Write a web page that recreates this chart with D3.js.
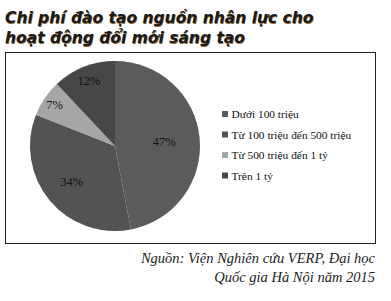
<!DOCTYPE html>
<html>
<head>
<meta charset="utf-8">
<script src="https://cdnjs.cloudflare.com/ajax/libs/d3/7.8.5/d3.min.js"></script>
<style>
  body { margin: 0; background: #fff; }
</style>
</head>
<body>
<div id="chart"></div>
<script>
var svgWidth = 391;
var svgHeight = 301;

var categories = ["Dưới 100 triệu", "Từ 100 triệu đến 500 triệu", "Từ 500 triệu đến 1 tỷ", "Trên 1 tỷ"];
var shares = [47, 34, 7, 12];
var colors = ["#5b5b5b", "#535353", "#a6a6a6", "#474747"];
var titleLines = ["Chi phí đào tạo nguồn nhân lực cho", "hoạt động đổi mới sáng tạo"];
var sourceLines = ["Nguồn: Viện Nghiên cứu VERP, Đại học", "Quốc gia Hà Nội năm 2015"];

// label distance from centre, as a share of the radius (Excel-ish placement)
var labelRadius = [0.58, 0.66, 0.86, 0.83];

var svg = d3.select("#chart")
  .append("svg")
  .attr("width", svgWidth)
  .attr("height", svgHeight);

// title
svg.selectAll(".title")
  .data(titleLines)
  .enter()
  .append("text")
  .attr("class", "title")
  .attr("x", 5)
  .attr("y", (d, i) => 23 + i * 20)
  .attr("font-family", "DejaVu Sans")
  .attr("font-weight", "bold")
  .attr("font-style", "italic")
  .attr("font-size", "15.5px")
  .attr("fill", "#1a1a1a")
  .style("text-shadow", "0.6px 0.6px 0 #8a6a3a")
  .text(d => d);

// frame
svg.append("rect")
  .attr("x", 5.5)
  .attr("y", 52.5)
  .attr("width", 370)
  .attr("height", 191)
  .attr("fill", "none")
  .attr("stroke", "#222")
  .attr("stroke-width", 1);

var radius = 85;
var pieGroup = svg.append("g")
  .attr("transform", "translate(115, 146)");

var pie = d3.pie().sort(null).value(d => d);
var arc = d3.arc().innerRadius(0).outerRadius(radius);

var arcs = pie(shares);

pieGroup.selectAll("path")
  .data(arcs)
  .enter()
  .append("path")
  .attr("d", arc)
  .attr("fill", (d, i) => colors[i]);

pieGroup.selectAll(".lbl")
  .data(arcs)
  .enter()
  .append("text")
  .attr("class", "lbl")
  .attr("transform", (d, i) => {
    var r = radius * labelRadius[i];
    var c = d3.arc().innerRadius(r).outerRadius(r).centroid(d);
    return `translate(${c})`;
  })
  .attr("text-anchor", "middle")
  .attr("dy", "0.35em")
  .attr("font-family", "Liberation Serif")
  .attr("font-size", "12.5px")
  .attr("fill", "#111")
  .text(d => d.data + "%");

// legend
var legend = svg.selectAll(".legend")
  .data(categories)
  .enter()
  .append("g")
  .attr("class", "legend")
  .attr("transform", (d, i) => `translate(222, ${115 + i * 20.5})`);

legend.append("rect")
  .attr("x", 0)
  .attr("y", -4)
  .attr("width", 6)
  .attr("height", 6)
  .attr("fill", (d, i) => colors[i]);

legend.append("text")
  .attr("x", 9.5)
  .attr("y", 3)
  .attr("font-family", "Liberation Serif")
  .attr("font-size", "11.4px")
  .attr("fill", "#111")
  .text(d => d);

// source
svg.selectAll(".src")
  .data(sourceLines)
  .enter()
  .append("text")
  .attr("class", "src")
  .attr("x", 375)
  .attr("y", (d, i) => 263 + i * 19)
  .attr("text-anchor", "end")
  .attr("font-family", "Liberation Serif")
  .attr("font-style", "italic")
  .attr("font-size", "14.5px")
  .attr("fill", "#222")
  .text(d => d);
</script>
</body>
</html>
